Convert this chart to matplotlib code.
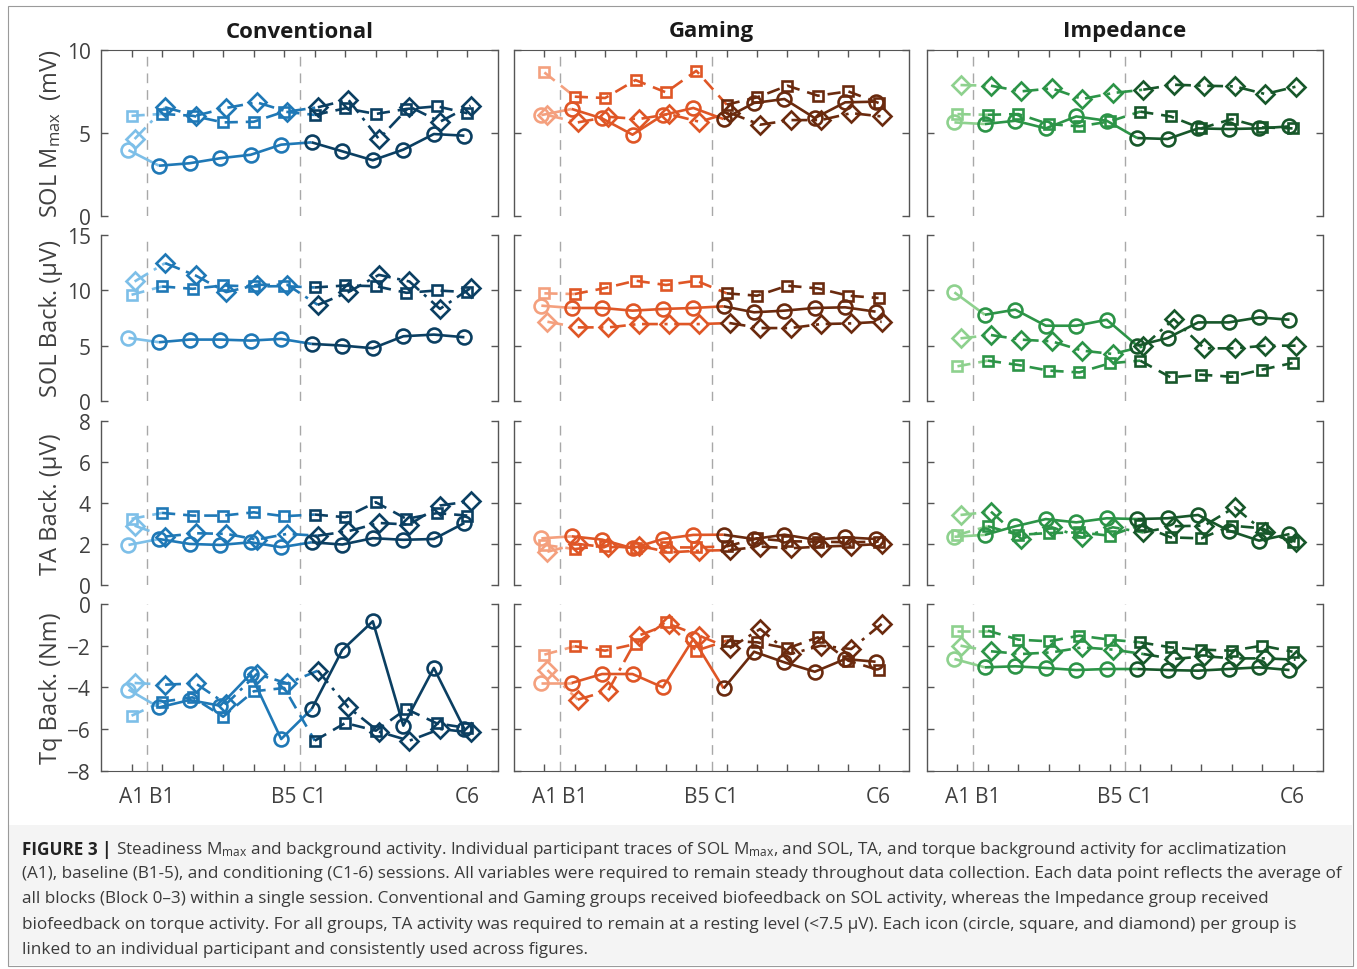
import numpy as np
import matplotlib
matplotlib.use("Agg")
import matplotlib.pyplot as plt
from matplotlib.patches import Rectangle

plt.rcParams['font.family'] = ['Open Sans', 'DejaVu Sans']
plt.rcParams['mathtext.fontset'] = 'custom'
plt.rcParams['mathtext.rm'] = 'Open Sans'
plt.rcParams['mathtext.it'] = 'Open Sans:italic'
plt.rcParams['mathtext.bf'] = 'Open Sans:bold'

# ---------------- data ----------------
sessions = ['A1', 'B1', 'B2', 'B3', 'B4', 'B5', 'C1', 'C2', 'C3', 'C4', 'C5', 'C6']
tick_labels = ['A1', 'B1', '', '', '', 'B5', 'C1', '', '', '', '', 'C6']
groups = ['Conventional', 'Gaming', 'Impedance']
ylabels = ['SOL M$_{\\mathrm{max}}$  (mV)', 'SOL Back. (\u03bcV)', 'TA Back. (\u03bcV)', 'Tq Back. (Nm)']

# Conventional
conv_mmax_o = [3.95, 3.01, 3.16, 3.46, 3.67, 4.28, 4.42, 3.88, 3.34, 3.98, 4.92, 4.82]
conv_mmax_s = [6.02, 6.13, 6.02, 5.62, 5.66, 6.27, 6.07, 6.47, 6.13, 6.43, 6.59, 6.17]
conv_mmax_d = [4.62, 6.53, 6.02, 6.49, 6.83, 6.27, 6.53, 6.99, 4.62, 6.57, 5.66, 6.63]
conv_sol_o = [5.69, 5.30, 5.54, 5.54, 5.45, 5.60, 5.15, 5.00, 4.76, 5.84, 5.99, 5.75]
conv_sol_s = [9.58, 10.33, 10.12, 10.42, 10.33, 10.36, 10.24, 10.42, 10.36, 9.76, 9.97, 9.82]
conv_sol_d = [10.78, 12.44, 11.32, 9.82, 10.48, 10.48, 8.67, 9.82, 11.38, 10.78, 8.31, 10.18]
conv_ta_o = [1.95, 2.24, 2.00, 1.95, 2.08, 1.84, 2.08, 1.97, 2.28, 2.20, 2.24, 3.02]
conv_ta_s = [3.22, 3.51, 3.38, 3.38, 3.54, 3.35, 3.43, 3.30, 4.03, 3.22, 3.50, 3.38]
conv_ta_d = [2.89, 2.36, 2.52, 2.49, 2.21, 2.49, 2.40, 2.62, 3.02, 2.94, 3.87, 4.08]
conv_tq_o = [-4.11, -4.96, -4.61, -4.88, -3.36, -6.48, -5.04, -2.21, -0.83, -5.84, -3.07, -6.00]
conv_tq_s = [-5.36, -4.69, -4.48, -5.41, -4.19, -4.03, -6.56, -5.71, -6.08, -5.04, -5.73, -5.95]
conv_tq_d = [-3.79, -3.87, -3.81, -4.80, -3.36, -3.81, -3.20, -4.96, -6.13, -6.56, -6.00, -6.16]

# Gaming
game_mmax_o = [6.06, 6.43, 5.86, 4.88, 6.06, 6.49, 5.82, 6.79, 7.03, 5.88, 6.83, 6.87]
game_mmax_s = [8.63, 7.17, 7.09, 8.17, 7.43, 8.73, 6.69, 7.13, 7.83, 7.23, 7.49, 6.79]
game_mmax_d = [6.06, 5.62, 5.96, 5.82, 6.12, 5.66, 6.20, 5.48, 5.76, 5.76, 6.18, 5.98]
game_sol_o = [8.60, 8.39, 8.39, 8.15, 8.30, 8.39, 8.54, 8.00, 8.15, 8.39, 8.45, 8.06]
game_sol_s = [9.71, 9.65, 10.19, 10.85, 10.46, 10.85, 9.71, 9.50, 10.40, 10.16, 9.50, 9.29]
game_sol_d = [7.15, 6.64, 6.64, 6.94, 6.94, 6.94, 7.03, 6.58, 6.58, 6.94, 7.00, 7.15]
game_ta_o = [2.27, 2.37, 2.21, 1.79, 2.24, 2.44, 2.45, 2.24, 2.45, 2.21, 2.32, 2.24]
game_ta_s = [1.95, 1.75, 1.92, 1.79, 1.83, 1.83, 1.88, 2.27, 2.13, 2.11, 2.08, 2.11]
game_ta_d = [1.62, 2.00, 1.83, 1.92, 1.59, 1.67, 1.70, 1.87, 1.79, 1.87, 1.92, 2.00]
game_tq_o = [-3.79, -3.79, -3.36, -3.36, -4.00, -1.68, -4.05, -2.29, -2.80, -3.25, -2.64, -2.77]
game_tq_s = [-2.43, -2.03, -2.24, -1.92, -0.85, -2.24, -1.76, -1.84, -2.13, -1.60, -2.72, -3.17]
game_tq_d = [-3.17, -4.59, -4.16, -1.52, -0.96, -1.52, -2.13, -1.20, -2.40, -2.00, -2.16, -0.96]

# Impedance
imp_mmax_o = [5.62, 5.52, 5.72, 5.26, 5.98, 5.72, 4.68, 4.62, 5.26, 5.22, 5.26, 5.38]
imp_mmax_s = [6.12, 6.08, 6.12, 5.52, 5.38, 5.68, 6.27, 5.98, 5.26, 5.82, 5.32, 5.26]
imp_mmax_d = [7.87, 7.83, 7.49, 7.67, 7.03, 7.39, 7.59, 7.89, 7.83, 7.79, 7.33, 7.77]
imp_sol_o = [9.80, 7.78, 8.24, 6.79, 6.79, 7.33, 4.99, 5.68, 7.09, 7.09, 7.54, 7.33]
imp_sol_s = [3.13, 3.64, 3.25, 2.74, 2.58, 3.40, 3.64, 2.13, 2.37, 2.19, 2.83, 3.43]
imp_sol_d = [5.65, 5.95, 5.53, 5.38, 4.54, 4.24, 4.93, 7.39, 4.75, 4.75, 4.99, 4.99]
imp_ta_o = [2.35, 2.44, 2.86, 3.21, 3.05, 3.25, 3.21, 3.25, 3.41, 2.65, 2.16, 2.48]
imp_ta_s = [2.44, 2.86, 2.44, 2.53, 2.56, 2.40, 2.92, 2.32, 2.27, 2.89, 2.76, 2.08]
imp_ta_d = [3.41, 3.57, 2.24, 2.81, 2.32, 2.81, 2.56, 2.86, 2.89, 3.78, 2.56, 2.11]
imp_tq_o = [-2.64, -3.04, -2.99, -3.07, -3.17, -3.12, -3.12, -3.17, -3.20, -3.12, -3.04, -3.17]
imp_tq_s = [-1.28, -1.28, -1.71, -1.79, -1.52, -1.71, -1.84, -2.08, -2.19, -2.24, -2.00, -2.29]
imp_tq_d = [-2.00, -2.27, -2.40, -2.32, -2.08, -2.19, -2.40, -2.64, -2.51, -2.61, -2.61, -2.67]

data = [
    [[conv_mmax_o, conv_mmax_s, conv_mmax_d], [conv_sol_o, conv_sol_s, conv_sol_d],
     [conv_ta_o, conv_ta_s, conv_ta_d], [conv_tq_o, conv_tq_s, conv_tq_d]],
    [[game_mmax_o, game_mmax_s, game_mmax_d], [game_sol_o, game_sol_s, game_sol_d],
     [game_ta_o, game_ta_s, game_ta_d], [game_tq_o, game_tq_s, game_tq_d]],
    [[imp_mmax_o, imp_mmax_s, imp_mmax_d], [imp_sol_o, imp_sol_s, imp_sol_d],
     [imp_ta_o, imp_ta_s, imp_ta_d], [imp_tq_o, imp_tq_s, imp_tq_d]],
]

# ---------------- styling ----------------
palettes = [
    ['#7dbfe8', '#1f78b6', '#0b3f62'],
    ['#f4a07e', '#df5626', '#6a2a0e'],
    ['#8ed18e', '#2c9447', '#17572a'],
]
markers = ['o', 's', 'D']
msizes = [10, 7.5, 9]
lstyles = ['-', (0, (5, 3)), (0, (6, 2.5, 1.2, 2.5))]
x_offsets = [-0.1, 0.0, 0.1]
phase = np.array([0, 1, 1, 1, 1, 1, 2, 2, 2, 2, 2, 2])
ylims = [(0, 10), (0, 15), (0, 8), (-8, 0)]
yticks = [[0, 5, 10], [0, 5, 10, 15], [0, 2, 4, 6, 8], [-8, -6, -4, -2, 0]]

W, H = 1357, 970
fig = plt.figure(figsize=(W / 100, H / 100), dpi=100)
fig.patch.set_facecolor('white')

# outer frame and caption background
fig.add_artist(Rectangle((8 / W, 1 - 967 / H), (1353 - 8) / W, (967 - 7) / H,
                         transform=fig.transFigure, fill=False, edgecolor='#9a9a9a', lw=0.8))
fig.add_artist(Rectangle((9 / W, 1 - 966 / H), (1352 - 9) / W, (966 - 826) / H,
                         transform=fig.transFigure, facecolor='#f4f4f4', edgecolor='none', zorder=-1))

cols_px = [(101, 498), (514, 909), (927, 1323)]
rows_px = [(50.7, 216.7), (235.7, 402), (421.7, 586), (605, 771.7)]
spine_col = '#555555'
text_col = '#404040'

xs = np.arange(1, 13)
for gi in range(3):
    x0, x1 = cols_px[gi]
    for ri in range(4):
        y0, y1 = rows_px[ri]
        ax = fig.add_axes([x0 / W, 1 - y1 / H, (x1 - x0) / W, (y1 - y0) / H])
        ax.set_facecolor('none')
        ax.set_xlim(0, 13)
        ax.set_ylim(*ylims[ri])
        ax.set_yticks(yticks[ri])
        ax.set_xticks(xs)
        for s in ['left', 'right']:
            ax.spines[s].set_color(spine_col)
            ax.spines[s].set_linewidth(1.0)
        ax.spines['top'].set_visible(ri == 0)
        ax.spines['bottom'].set_visible(ri == 3)
        ax.spines['top'].set_color(spine_col)
        ax.spines['bottom'].set_color(spine_col)
        ax.tick_params(axis='y', direction='in', length=5, width=1, color=spine_col,
                       left=True, right=True, labelleft=(gi == 0), labelright=False,
                       labelsize=15, labelcolor=text_col, pad=7.5)
        ax.tick_params(axis='x', direction='in', length=5, width=1, color=spine_col,
                       top=(ri == 0), bottom=(ri == 3), labeltop=False,
                       labelbottom=(ri == 3), labelsize=15, labelcolor=text_col, pad=11)
        if ri == 3:
            ax.set_xticklabels(tick_labels)
        for xv in (1.5, 6.5):
            ax.axvline(xv, color='#a8a8a8', lw=1.0, ls=(0, (7, 5)), zorder=1)
        for pi in range(3):
            y = np.asarray(data[gi][ri][pi], dtype=float)
            x = xs + x_offsets[pi]
            for ph, (a, b) in enumerate([(0, 2), (1, 7), (6, 12)]):
                ax.plot(x[a:b], y[a:b], color=palettes[gi][ph], ls=lstyles[pi],
                        lw=1.9, zorder=2 + ph, solid_capstyle='butt')
            for ph in range(3):
                m = phase == ph
                ax.plot(x[m], y[m], ls='none', marker=markers[pi], ms=msizes[pi],
                        mfc='none', mec=palettes[gi][ph], mew=1.9, zorder=5 + ph)
        if gi == 0:
            ax.set_ylabel(ylabels[ri], fontsize=17, color=text_col)
            ax.yaxis.set_label_coords(-0.095, 0.5)
    fig.text((x0 + x1) / 2 / W, 1 - 32 / H, groups[gi], ha='center', va='center',
             fontsize=16, fontweight='bold', color='#1a1a1a')

# ---------------- caption ----------------
cap_fs = 12.3
cap_col = '#3a3a3a'
lines = [
    "Steadiness M$_{\\mathrm{max}}$ and background activity. Individual participant traces of SOL M$_{\\mathrm{max}}$, and SOL, TA, and torque background activity for acclimatization",
    "(A1), baseline (B1-5), and conditioning (C1-6) sessions. All variables were required to remain steady throughout data collection. Each data point reflects the average of",
    "all blocks (Block 0\u20133) within a single session. Conventional and Gaming groups received biofeedback on SOL activity, whereas the Impedance group received",
    "biofeedback on torque activity. For all groups, TA activity was required to remain at a resting level (<7.5 \u03bcV). Each icon (circle, square, and diamond) per group is",
    "linked to an individual participant and consistently used across figures.",
]
line_y = [850, 874.5, 899.5, 925, 950]
renderer = fig.canvas.get_renderer()
bold = fig.text(22 / W, 1 - line_y[0] / H, "FIGURE 3 |", fontsize=cap_fs, fontweight='bold',
                color='#222222', va='center', ha='left')
bb = bold.get_window_extent(renderer=renderer)
fig.text((bb.x1 + 5) / W, 1 - line_y[0] / H, lines[0], fontsize=cap_fs, color=cap_col,
         va='center', ha='left')
for k in range(1, 5):
    fig.text(22 / W, 1 - line_y[k] / H, lines[k], fontsize=cap_fs, color=cap_col,
             va='center', ha='left')

fig.savefig('out.png', dpi=100)
